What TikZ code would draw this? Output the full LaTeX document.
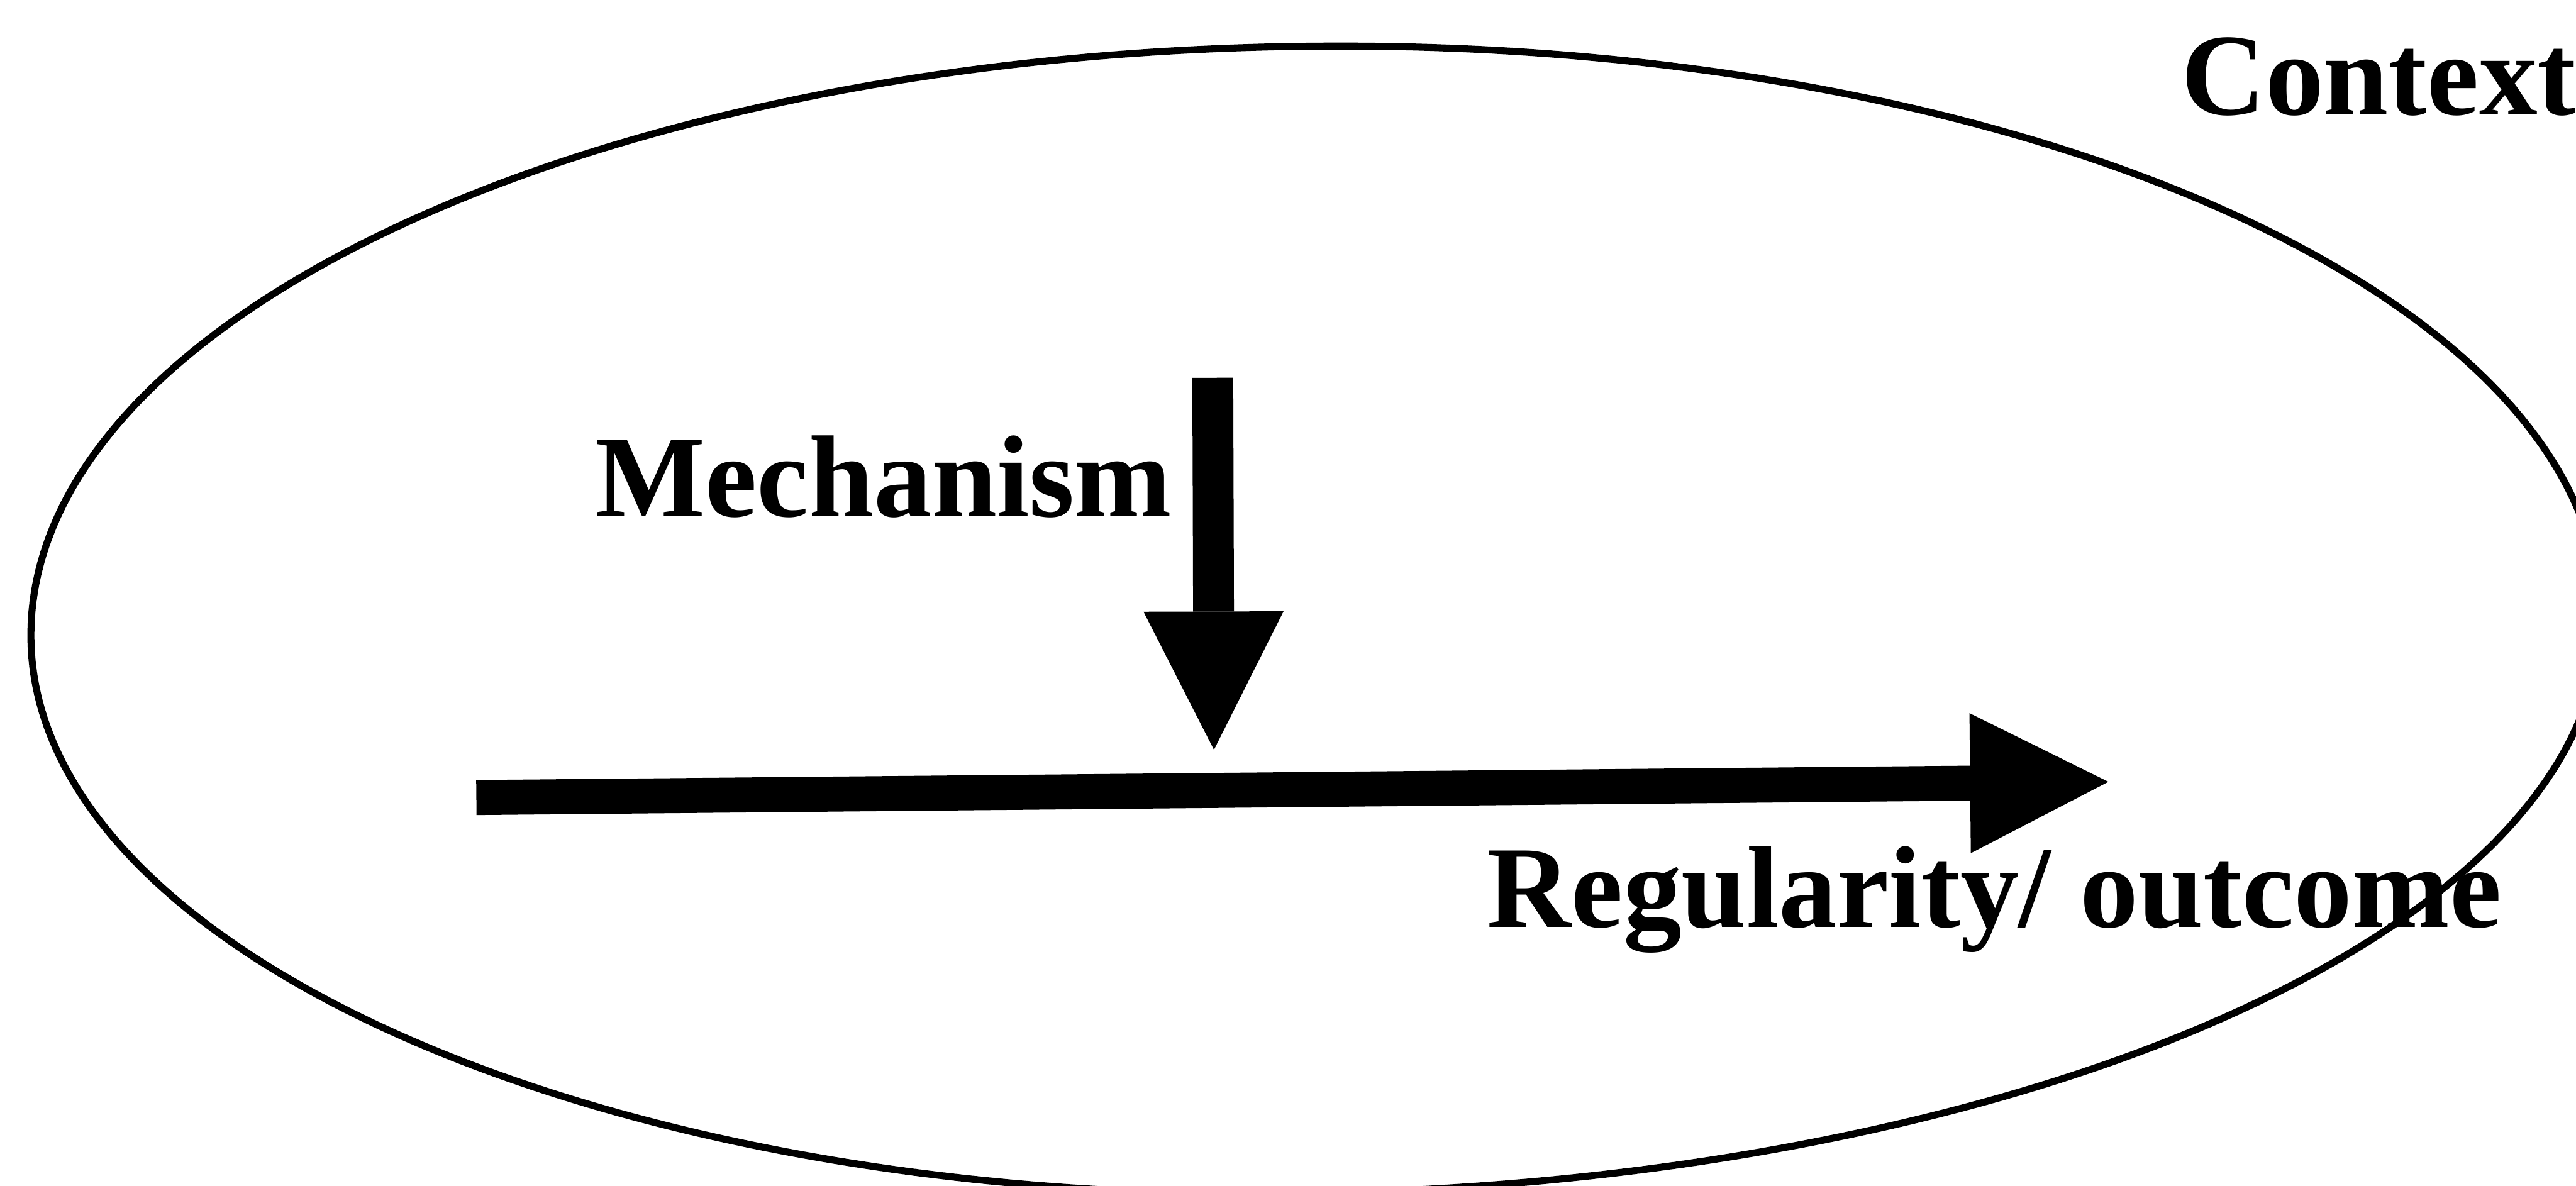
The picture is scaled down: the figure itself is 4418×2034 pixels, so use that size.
\documentclass[tikz,border=0pt]{standalone}
\usepackage{fontspec}
\setmainfont{Liberation Serif}
\usetikzlibrary{arrows.meta}
\begin{document}
\begin{tikzpicture}[x=0.01cm,y=-0.01cm,
  lbl/.style={inner sep=0pt, anchor=base west, font=\fontsize{56.9pt}{60pt}\selectfont\bfseries},
  ring/.style={line width=0.12cm, line join=round},
  bigarrow/.style={-{Triangle[length=2.37cm,width=2.4cm,line width=0pt]}}]
\useasboundingbox (0,0) rectangle (4418,2034);
\clip (0,0) rectangle (4418,2034);

% context ellipse (hand-drawn, slightly egg-shaped)
\coordinate (eT) at (2300,79);
\coordinate (eR) at (4460,1060);
\coordinate (eB) at (2150,2048);
\coordinate (eL) at (53,1090);
\draw[ring] (eT) .. controls (3493,79) and (4460,518) .. (eR)
  .. controls (4460,1606) and (3426,2048) .. (eB)
  .. controls (992,2048) and (53,1619) .. (eL)
  .. controls (53,532) and (1059,79) .. (eT) -- cycle;

% labels
\node[lbl] (ctx) at (3740,197) {Context};
\node[lbl] (mech) at (1020,886) {Mechanism};
\node[lbl] (reg) at (2550,1590) {Regularity/ outcome};

% arrows
\coordinate (hs) at (817,1368);
\coordinate (ht) at (3616,1341);
\coordinate (vs) at (2080,648);
\coordinate (vt) at (2082,1286);
\draw[bigarrow, line width=0.6cm] (hs) -- (ht);
\draw[bigarrow, line width=0.7cm] (vs) -- (vt);
\end{tikzpicture}
\end{document}
